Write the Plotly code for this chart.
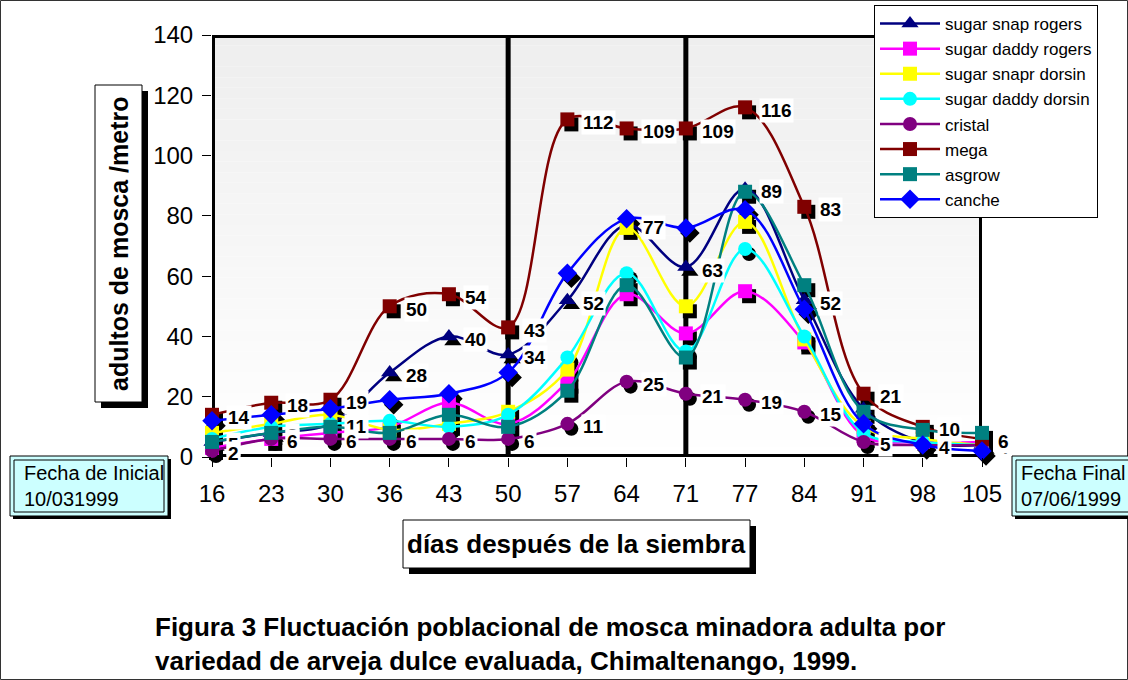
import plotly.graph_objects as go

# ---------------- data ----------------
days = [16, 23, 30, 36, 43, 50, 57, 64, 71, 77, 84, 91, 98, 105]

sugar_snap_rogers = [5, 8, 11, 28, 40, 34, 52, 77, 63, 89, 52, 16, 5, 4]
sugar_daddy_rogers = [3, 6, 8, 10, 18, 11, 25, 54, 41, 55, 38, 7, 5, 5]
sugar_snapr_dorsin = [8, 11, 14, 9, 11, 15, 29, 76, 50, 78, 39, 10, 6, 4]
sugar_daddy_dorsin = [6, 10, 11, 12, 10, 14, 33, 61, 35, 69, 40, 8, 5, 4]
cristal = [2, 6, 6, 6, 6, 6, 11, 25, 21, 19, 15, 5, 4, 4]
mega = [14, 18, 19, 50, 54, 43, 112, 109, 109, 116, 83, 21, 10, 6]
asgrow = [5, 8, 10, 8, 14, 10, 22, 57, 33, 88, 57, 15, 9, 8]
canche = [12, 14, 16, 19, 21, 28, 61, 79, 76, 82, 49, 11, 4, 2]

series_names = ["sugar snap rogers", "sugar daddy rogers", "sugar snapr dorsin",
                "sugar daddy dorsin", "cristal", "mega", "asgrow", "canche"]
series_values = [sugar_snap_rogers, sugar_daddy_rogers, sugar_snapr_dorsin,
                 sugar_daddy_dorsin, cristal, mega, asgrow, canche]
series_colors = ["#000080", "#FF00FF", "#FFFF00", "#00FFFF",
                 "#800080", "#800000", "#008080", "#0000FF"]
series_symbols = ["triangle-up", "square", "square", "circle",
                  "circle", "square", "square", "diamond"]
series_sizes = [15, 14, 14, 14, 14, 14, 14, 15]

# which series carry data labels (and up to which index)
labelled = {"mega": len(days), "cristal": len(days), "sugar snap rogers": 11}

y_title = "adultos de mosca /metro"
x_title = "días después de la siembra"
caption = ("Figura 3 Fluctuación poblacional de mosca minadora adulta por<br>"
           "variedad de arveja dulce evaluada, Chimaltenango, 1999.")
start_box = "Fecha de Inicial<br>10/031999"
end_box = "Fecha Final<br>07/06/1999"
marked_days = [50, 71]
y_max = 140

# ---------------- geometry helpers ----------------
FW, FH = 1128, 680
L, T, W, H = 212, 35, 774, 427   # full domain box (real plot + shadow shift)
SX, SY = 4, 5                    # shadow offset in px


def px(x):
    return (x - L) / W


def py(y):
    return (T + H - y) / H


idx = list(range(len(days)))
last = len(days) - 1
fig = go.Figure()

# shadow markers (drawn first, on offset subplot)
for name, vals, sym, size in zip(series_names, series_values, series_symbols, series_sizes):
    fig.add_trace(go.Scatter(
        x=idx, y=vals, xaxis="x", yaxis="y", mode="markers",
        marker=dict(color="black", symbol=sym, size=size, line=dict(width=0)),
        showlegend=False, hoverinfo="skip", cliponaxis=False))

# real series
for name, vals, col, sym, size in zip(series_names, series_values, series_colors,
                                      series_symbols, series_sizes):
    fig.add_trace(go.Scatter(
        x=idx, y=vals, xaxis="x2", yaxis="y2", mode="lines+markers", name=name,
        line=dict(color=col, width=2.5, shape="spline", smoothing=1),
        marker=dict(color=col, symbol=sym, size=size, line=dict(width=0)),
        cliponaxis=False))

shapes = []
# gradient background of plot area
N = 40
top_c, bot_c = 238, 255
for i in range(N):
    y0 = 457 - (457 - 35) * i / N
    y1 = 457 - (457 - 35) * (i + 1) / N
    c = round(bot_c + (top_c - bot_c) * (i + 0.5) / N)
    shapes.append(dict(type="rect", xref="paper", yref="paper", layer="below",
                       x0=px(212), x1=px(982), y0=py(y0), y1=py(y1),
                       fillcolor=f"rgb({c},{c},{c})", line=dict(width=0)))
# vertical marker lines
for d in marked_days:
    k = days.index(d)
    shapes.append(dict(type="line", xref="x2", yref="y2", layer="below",
                       x0=k, x1=k, y0=0, y1=y_max,
                       line=dict(color="black", width=5)))
# plot frame (centred on the data edges)
frame = [(0, 0, 0, y_max), (0, y_max, last, y_max), (last, 0, last, y_max), (0, 0, last, 0)]
for (a, b, c2, d2) in frame:
    shapes.append(dict(type="line", xref="x2", yref="y2", layer="below",
                       x0=a, y0=b, x1=c2, y1=d2,
                       line=dict(color="black", width=6)))

# outer border
shapes.append(dict(type="rect", xref="paper", yref="paper",
                   x0=px(0.5), x1=px(1127.5), y0=py(679.5), y1=py(0.5),
                   line=dict(color="#333333", width=1)))


def boxed(x0, y0, x1, y1, shadow=6, fill="white"):
    shapes.append(dict(type="rect", xref="paper", yref="paper",
                       x0=px(x0 + shadow), x1=px(x1 + shadow),
                       y0=py(y1 + shadow), y1=py(y0 + shadow),
                       fillcolor="black", line=dict(width=0)))
    shapes.append(dict(type="rect", xref="paper", yref="paper",
                       x0=px(x0), x1=px(x1), y0=py(y1), y1=py(y0),
                       fillcolor=fill, line=dict(color="black", width=1)))


boxed(95, 85, 142, 402)          # y title box
boxed(403, 520, 750, 568)        # x title box
boxed(10, 456, 168, 516, shadow=3, fill="#CCFFFF")
shapes.append(dict(type="rect", xref="paper", yref="paper",
                   x0=px(14), x1=px(164), y0=py(512), y1=py(460),
                   line=dict(color="black", width=1)))
boxed(1012, 456, 1140, 516, shadow=3, fill="#CCFFFF")
shapes.append(dict(type="rect", xref="paper", yref="paper",
                   x0=px(1016), x1=px(1136), y0=py(512), y1=py(460),
                   line=dict(color="black", width=1)))

annotations = []
annotations.append(dict(xref="paper", yref="paper", x=px(118.5), y=py(243.5),
                        text=f"<b>{y_title}</b>", textangle=-90, showarrow=False,
                        font=dict(family="Arial", size=25, color="black"),
                        xanchor="center", yanchor="middle"))
annotations.append(dict(xref="paper", yref="paper", x=px(576.5), y=py(544),
                        text=f"<b>{x_title}</b>", showarrow=False,
                        font=dict(family="Arial", size=26, color="black"),
                        xanchor="center", yanchor="middle"))
annotations.append(dict(xref="paper", yref="paper", x=px(22), y=py(486),
                        text=start_box, showarrow=False, align="left",
                        font=dict(family="Arial", size=20, color="black"),
                        xanchor="left", yanchor="middle"))
annotations.append(dict(xref="paper", yref="paper", x=px(1019), y=py(486),
                        text=end_box, showarrow=False, align="left",
                        font=dict(family="Arial", size=20, color="black"),
                        xanchor="left", yanchor="middle"))
annotations.append(dict(xref="paper", yref="paper", x=px(153), y=py(644),
                        text=f"<b>{caption}</b>", showarrow=False, align="left",
                        font=dict(family="Arial", size=26, color="black"),
                        xanchor="left", yanchor="middle"))

# data labels
for name, vals in zip(series_names, series_values):
    if name in labelled:
        for k in range(labelled[name]):
            annotations.append(dict(
                xref="x2", yref="y2", x=k, y=vals[k], text=f"<b>{vals[k]}</b>",
                showarrow=False, xanchor="left", yanchor="middle",
                xshift=14, yshift=-3, bgcolor="white", borderpad=1,
                font=dict(family="Arial", size=19, color="black")))

fig.update_layout(
    width=FW, height=FH,
    margin=dict(l=L, r=FW - L - W, t=T, b=FH - T - H, pad=0, autoexpand=False),
    paper_bgcolor="white", plot_bgcolor="rgba(0,0,0,0)",
    font=dict(family="Arial", color="black"),
    xaxis=dict(domain=[SX / W, 1], range=[0, last], visible=False,
               anchor="y", fixedrange=True),
    yaxis=dict(domain=[0, 1 - SY / H], range=[0, y_max], visible=False,
               anchor="x", fixedrange=True),
    xaxis2=dict(domain=[0, 1 - SX / W], range=[0, last], anchor="y2",
                tickmode="array", tickvals=idx, ticktext=[str(d) for d in days],
                showline=False, ticks="outside", ticklen=9, tickwidth=1,
                tickcolor="black", showgrid=False, zeroline=False,
                ticklabelstandoff=6, automargin=False,
                tickfont=dict(family="Arial", size=24, color="black")),
    yaxis2=dict(domain=[SY / H, 1], range=[0, y_max], anchor="x2",
                tickmode="linear", tick0=0, dtick=20,
                showline=False, ticks="outside", ticklen=9, tickwidth=1,
                tickcolor="black", showgrid=False, zeroline=False,
                ticklabelstandoff=4, automargin=False,
                tickfont=dict(family="Arial", size=24, color="black")),
    legend=dict(x=px(874), y=py(5), xanchor="left", yanchor="top",
                bgcolor="white", bordercolor="black", borderwidth=1,
                font=dict(family="Arial", size=17, color="black"),
                tracegroupgap=0, itemwidth=60),
    shapes=shapes, annotations=annotations,
    showlegend=True,
)

fig.write_html("out.html", config={"displayModeBar": False},
               post_script="document.body.style.margin='0';document.body.style.padding='0';")
